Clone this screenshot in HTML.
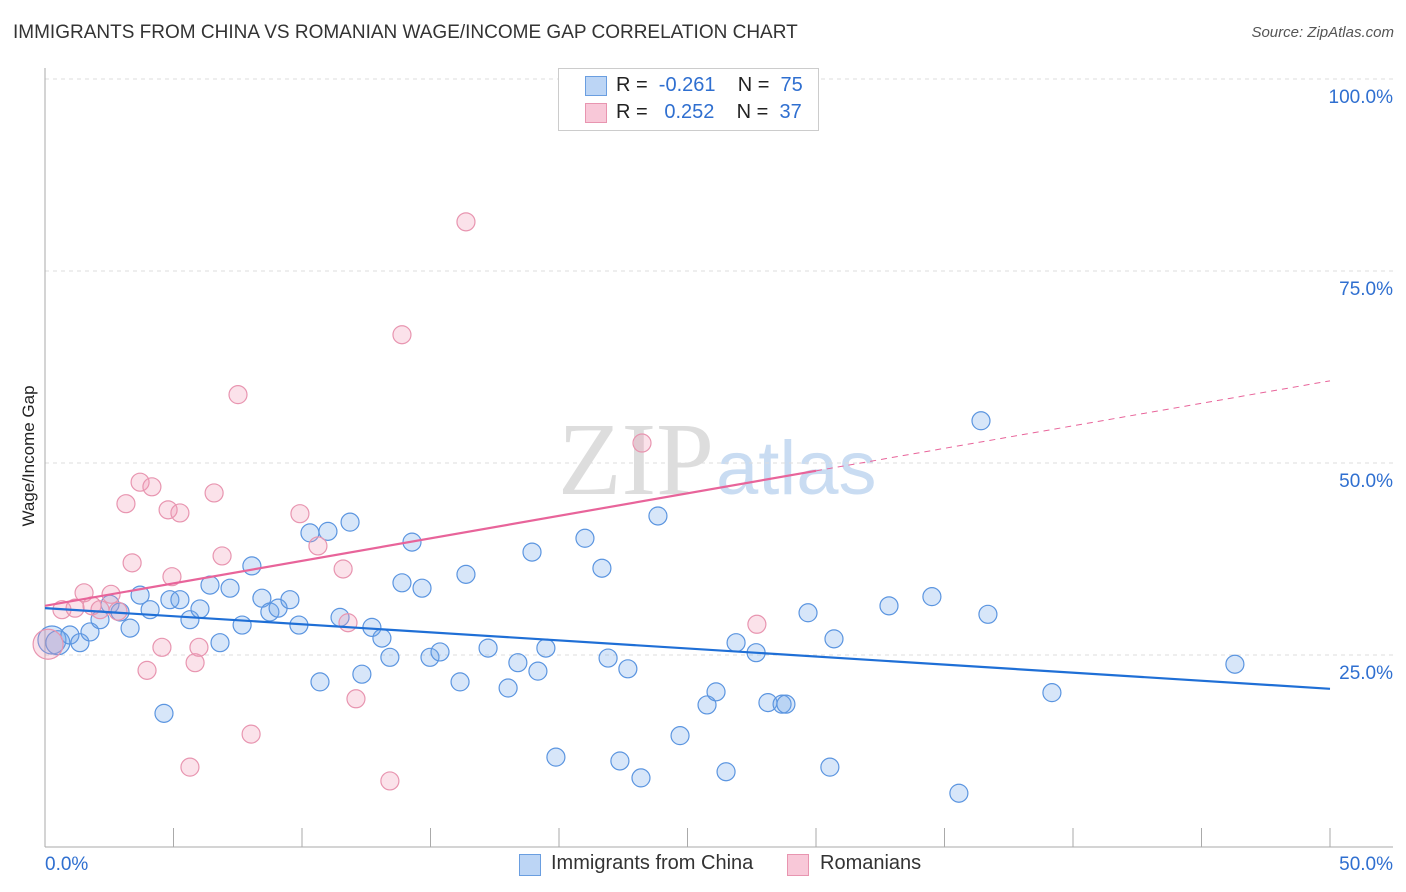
<!DOCTYPE html>
<html><head><meta charset="utf-8"><style>
body{margin:0;background:#fff;font-family:"Liberation Sans",sans-serif;}
#wrap{position:relative;width:1406px;height:892px;overflow:hidden;}
.t{position:absolute;white-space:nowrap;}
</style></head><body>
<div id="wrap">
<div class="t" style="left:13px;top:22px;font-size:19px;color:#333;">IMMIGRANTS FROM CHINA VS ROMANIAN WAGE/INCOME GAP CORRELATION CHART</div>
<div class="t" style="right:12px;top:24px;font-size:15px;color:#555;font-style:italic;">Source: ZipAtlas.com</div>
<svg id="svg" width="1406" height="892" style="position:absolute;left:0;top:0">
<text x="714" y="494" font-family="Liberation Serif,serif" font-size="104" fill="#ddd" text-anchor="end">ZIP</text>
<text x="716" y="494" font-family="Liberation Sans,sans-serif" font-size="76" fill="#c9dcf2">atlas</text>
<text transform="translate(34,456) rotate(-90)" font-size="17" fill="#222" text-anchor="middle">Wage/Income Gap</text>
<g id="g"></g>
</svg>
<div class="t" style="left:558px;top:68px;width:259px;height:61px;border:1px solid #ccc;background:#fff;">
<div class="t" style="left:26px;top:7px;width:20px;height:18px;background:#bcd5f5;border:1px solid #6a9ee0;"></div>
<div class="t" style="left:57px;top:5px;font-size:20px;color:#222;">R = &nbsp;<span style="color:#2f6fd0">-0.261</span>&nbsp;&nbsp;&nbsp; N = &nbsp;<span style="color:#2f6fd0">75</span></div>
<div class="t" style="left:26px;top:34px;width:20px;height:18px;background:#f8c8d8;border:1px solid #e895b0;"></div>
<div class="t" style="left:57px;top:32px;font-size:20px;color:#222;">R = &nbsp;&nbsp;<span style="color:#2f6fd0">0.252</span>&nbsp;&nbsp;&nbsp; N = &nbsp;<span style="color:#2f6fd0">37</span></div>
</div>
<div class="t" style="left:519px;top:854px;width:20px;height:20px;background:#bcd5f5;border:1px solid #6a9ee0;"></div>
<div class="t" style="left:551px;top:852px;font-size:20px;color:#333;">Immigrants from China</div>
<div class="t" style="left:787px;top:854px;width:20px;height:20px;background:#f8c8d8;border:1px solid #e895b0;"></div>
<div class="t" style="left:820px;top:852px;font-size:20px;color:#333;">Romanians</div>
</div>
<script>
const blueX=[0.27,0.5,0.97,1.36,1.75,2.14,2.53,2.92,3.31,3.70,4.09,4.63,4.86,5.25,5.64,6.03,6.42,6.81,7.20,7.67,8.05,8.44,8.75,9.07,9.53,9.88,10.31,10.70,11.01,11.48,11.87,12.33,12.72,13.11,13.42,13.89,14.28,14.67,14.98,15.37,16.15,16.38,17.24,18.02,18.40,18.95,19.18,19.49,19.88,21.01,21.67,21.91,22.37,22.68,23.19,23.85,24.71,25.76,26.11,26.50,26.89,27.67,28.13,28.68,28.83,29.69,30.54,30.70,32.84,34.51,35.56,36.42,36.69,39.18,46.30];
const blueY=[26.95,26.6,27.6,26.6,28.0,29.6,31.6,30.6,28.5,32.8,30.9,17.4,32.2,32.2,29.6,31.0,34.1,26.6,33.7,28.9,36.6,32.4,30.6,31.1,32.2,28.9,40.9,21.5,41.1,29.9,42.3,22.5,28.6,27.2,24.7,34.4,39.7,33.7,24.7,25.4,21.5,35.5,25.9,20.7,24.0,38.4,22.9,25.9,11.7,40.2,36.3,24.6,11.2,23.2,9.0,43.1,14.5,18.5,20.2,9.8,26.6,25.3,18.8,18.6,18.6,30.5,10.4,27.1,31.4,32.6,7.0,55.5,30.3,20.1,23.8];
const pinkX=[0.12,0.66,1.17,1.52,1.83,2.14,2.57,2.84,3.15,3.39,3.70,3.97,4.16,4.55,4.79,4.94,5.25,5.64,5.84,5.99,6.58,6.89,7.51,8.02,9.92,10.62,11.60,11.79,12.10,13.42,13.89,16.38,23.23,27.70];
const pinkY=[26.4,30.9,31.1,33.1,31.4,30.9,32.9,30.7,44.7,37.0,47.5,23.0,46.9,26.0,43.9,35.2,43.5,10.4,24.0,26.0,46.1,37.9,58.9,14.7,43.4,39.2,36.2,29.2,19.3,8.6,66.7,81.4,52.6,29.0];
const blueTrend=[31.1,20.6];
const pinkTrend=[31.4,60.7];
const pinkSolidEnd=30;
const yTicks=[25,50,75,100];
const xTickLabels=["0.0%","50.0%"];
const sx=v=>45+v*25.7, sy=v=>847-v*7.68;
const NS="http://www.w3.org/2000/svg", g=document.getElementById('g');
function mk(t,a){const e=document.createElementNS(NS,t);for(const k in a)e.setAttribute(k,a[k]);g.appendChild(e);return e;}
yTicks.forEach(v=>{
 const l=mk('line',{x1:45,x2:1393,y1:sy(v),y2:sy(v),stroke:'#ddd','stroke-dasharray':'4,4'});
 
 
 const t=mk('text',{x:1393,y:sy(v)+24,'text-anchor':'end','font-size':19,fill:'#2f6fd0','font-family':'Liberation Sans,sans-serif'});
 t.textContent=v.toFixed(1)+'%';
 
 
});
const ax=mk('line',{x1:45,x2:45,y1:68,y2:847,stroke:'#aaa'});


const bx=mk('line',{x1:45,x2:1393,y1:847,y2:847,stroke:'#aaa'});


for(let i=0;i<=10;i++){
 const tk=mk('line',{x1:sx(i*5),x2:sx(i*5),y1:828,y2:847,stroke:'#aaa'});
 
 
}
[[0,'start',45],[1,'end',1393]].forEach(([i,a,x])=>{
 const t=mk('text',{x:x,y:870,'text-anchor':a,'font-size':19,fill:'#2f6fd0','font-family':'Liberation Sans,sans-serif'});
 t.textContent=xTickLabels[i];
 
 
});
function dot(x,y,r,fill,stroke,name){
 const c=mk('circle',{cx:sx(x),cy:sy(y),r:r,fill:fill,stroke:stroke,'stroke-width':1.2});
 
 
}
blueX.forEach((x,i)=>dot(x,blueY[i],i<2?(i==0?14:12):9,'rgba(110,165,235,0.28)','#5b95e0','point-china'));
pinkX.forEach((x,i)=>dot(x,pinkY[i],i==0?15:9,'rgba(240,150,180,0.28)','#e895b0','point-romanians'));
const bl=mk('line',{x1:sx(0),y1:sy(blueTrend[0]),x2:sx(50),y2:sy(blueTrend[1]),stroke:'#1f6fd6','stroke-width':2.2});


const pAt=x=>pinkTrend[0]+(pinkTrend[1]-pinkTrend[0])*x/50;
const pl=mk('line',{x1:sx(0),y1:sy(pAt(0)),x2:sx(pinkSolidEnd),y2:sy(pAt(pinkSolidEnd)),stroke:'#e8649a','stroke-width':2.2});


const pd=mk('line',{x1:sx(pinkSolidEnd),y1:sy(pAt(pinkSolidEnd)),x2:sx(50),y2:sy(pAt(50)),stroke:'#e8649a','stroke-width':1,'stroke-dasharray':'6,5'});


</script>
</body></html>
